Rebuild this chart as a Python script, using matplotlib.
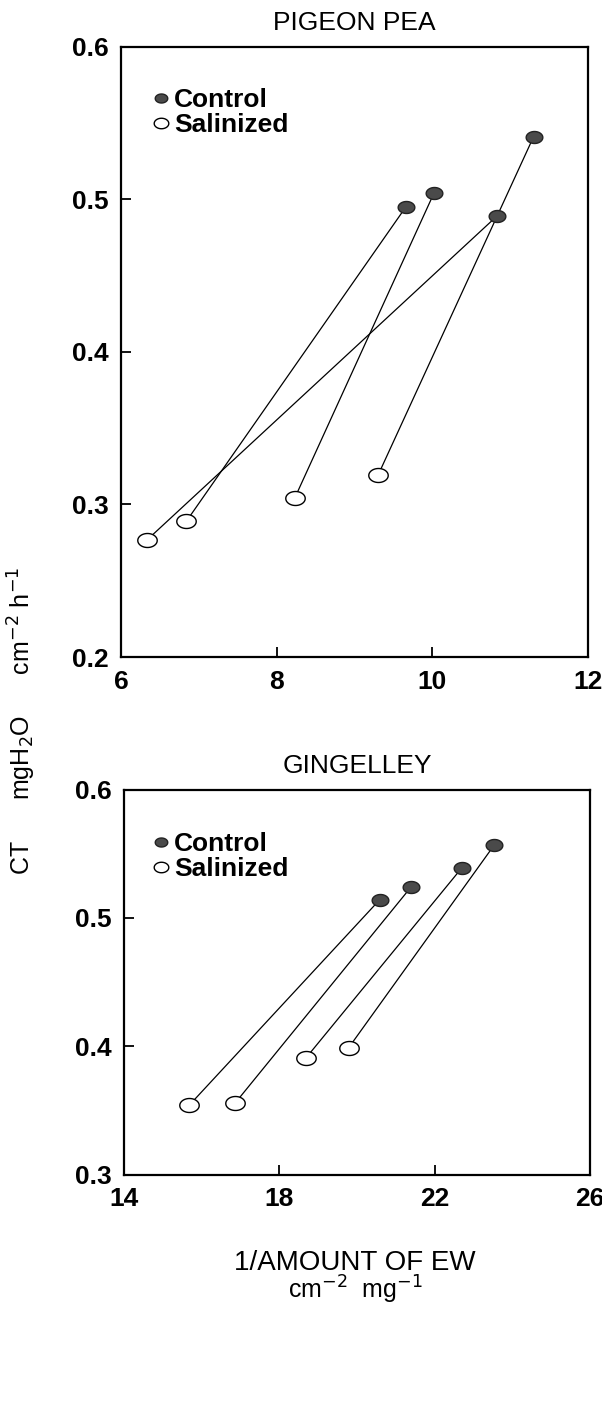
import numpy as np
import matplotlib.pyplot as plt
from matplotlib.path import Path

plt.rcParams['font.family'] = ['Liberation Sans', 'DejaVu Sans']

# pigeon pea: salinized -> control pairs
pp_sal_x = [6.84, 8.23, 6.34, 9.30]
pp_sal_y = [0.289, 0.304, 0.277, 0.319]
pp_con_x = [9.66, 10.02, 10.83, 11.30]
pp_con_y = [0.495, 0.504, 0.489, 0.541]

# gingelley
gg_sal_x = [15.68, 16.87, 18.69, 19.79]
gg_sal_y = [0.354, 0.356, 0.391, 0.399]
gg_con_x = [20.58, 21.39, 22.70, 23.54]
gg_con_y = [0.514, 0.524, 0.539, 0.557]

# slightly flattened circle marker
t = np.linspace(0, 2 * np.pi, 60)
ell = Path(np.column_stack([np.cos(t), 0.72 * np.sin(t)]), closed=True)

fig = plt.figure(figsize=(6.02, 14.10), dpi=100)
ax1 = fig.add_axes([0.201, 0.534, 0.776, 0.433])
ax2 = fig.add_axes([0.206, 0.167, 0.774, 0.273])


def panel(ax, sx, sy, cx, cy, xlim, ylim, xt, yt, title, leg_y):
    for a, b, c, d in zip(sx, sy, cx, cy):
        ax.plot([a, c], [b, d], color='black', lw=0.9, zorder=1)
    ax.plot(cx, cy, ls='none', marker=ell, ms=12, mfc='#4a4a4a', mec='#222222',
            mew=1.0, zorder=3, label='Control')
    ax.plot(sx, sy, ls='none', marker=ell, ms=14, mfc='white', mec='black',
            mew=1.0, zorder=3, label='Salinized')
    ax.set_xlim(xlim)
    ax.set_ylim(ylim)
    ax.set_xticks(xt)
    ax.set_yticks(yt)
    ax.set_xticklabels([str(v) for v in xt])
    ax.set_yticklabels(['%.1f' % v for v in yt])
    ax.tick_params(direction='in', length=7, width=1.3, labelsize=19, pad=9)
    for lab in ax.get_xticklabels() + ax.get_yticklabels():
        lab.set_fontweight('bold')
    for s in ax.spines.values():
        s.set_linewidth(1.6)
    ax.set_title(title, fontsize=19, pad=12)
    ax.legend(loc='upper left', bbox_to_anchor=(0.25, leg_y),
              bbox_transform=fig.transFigure, frameon=False,
              handlelength=0.8, handletextpad=0.1, labelspacing=0.05,
              borderaxespad=0, borderpad=0, markerscale=0.75,
              prop={'weight': 'bold', 'size': 19})


panel(ax1, pp_sal_x, pp_sal_y, pp_con_x, pp_con_y, (6, 12), (0.2, 0.6),
      [6, 8, 10, 12], [0.2, 0.3, 0.4, 0.5, 0.6], 'PIGEON PEA', 0.9376)
panel(ax2, gg_sal_x, gg_sal_y, gg_con_x, gg_con_y, (14, 26), (0.3, 0.6),
      [14, 18, 22, 26], [0.3, 0.4, 0.5, 0.6], 'GINGELLEY', 0.410)

fig.text(0.036, 0.489, r'CT      mgH$_2$O      cm$^{-2}$ h$^{-1}$', rotation=90,
         ha='center', va='center', fontsize=18)
fig.text(0.59, 0.104, '1/AMOUNT OF EW', ha='center', va='center',
         fontsize=20)
fig.text(0.59, 0.085, r'cm$^{-2}$  mg$^{-1}$', ha='center', va='center',
         fontsize=18)

fig.savefig('out.png', dpi=100)
